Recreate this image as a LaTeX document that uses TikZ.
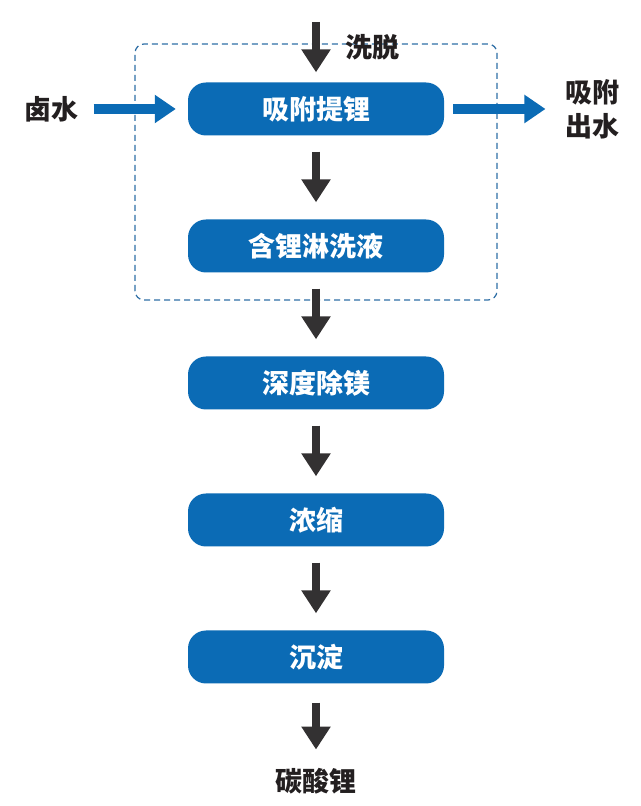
\documentclass[tikz,border=0pt]{standalone}
\usepackage{fontspec}
\newfontfamily\cjk{Noto Sans CJK SC}
\usetikzlibrary{positioning,arrows.meta}
\definecolor{boxblue}{HTML}{0B6BB5}
\definecolor{darkarrow}{HTML}{333132}
\definecolor{dashblue}{HTML}{2F6FA6}
\definecolor{labeltext}{HTML}{231F20}

\begin{document}
\begin{tikzpicture}[x=1pt,y=1pt,node distance=137pt,on grid,
   process/.style={rectangle, rounded corners=18pt, fill=boxblue,
      minimum width=256pt, minimum height=53pt, text=white,
      font=\cjk\bfseries\fontsize{27}{32}\selectfont},
   label/.style={text=labeltext, font=\cjk\bfseries\fontsize{27}{34}\selectfont},
   darrow/.style={darkarrow, line width=8pt, -{Triangle[width=28pt,length=23pt]}},
   barrow/.style={boxblue, line width=10pt, -{Triangle[width=27pt,length=21pt]}}]
   \useasboundingbox (0,0) rectangle (640,806);
   \fill[white] (0,0) rectangle (640,806);

   % dashed frame round the adsorption stage
   \draw[dashblue, line width=1.2pt, dash pattern=on 6pt off 4pt, rounded corners=9pt]
      (135,506) rectangle (497,762);

   \node[process] (b1) at (316,697) {吸附提锂};
   \node[process] (b2) [below=of b1] {含锂淋洗液};
   \node[process] (b3) [below=of b2] {深度除镁};
   \node[process] (b4) [below=of b3] {浓缩};
   \node[process] (b5) [below=of b4] {沉淀};

   \node[label] (brine) [left=265pt of b1] {卤水};
   \node[label, align=center] (outlet) [right=276pt of b1] {吸附\\出水};
   \node[label] (elute) at (372,759) {洗脱};
   \node[label] (carb) [below=124pt of b5] {碳酸锂};
   \coordinate (top) at (316,784);

   \draw[darrow, shorten >=10pt] (top) -- (b1);
   \draw[barrow, shorten <=12pt, shorten >=12pt] (brine) -- (b1);
   \draw[barrow, shorten <=9pt, shorten >=16pt] (b1) -- (outlet);

   \path[darrow, shorten <=16pt, shorten >=17pt]
   (b1) edge (b2)
   (b2) edge (b3)
   (b3) edge (b4)
   (b4) edge (b5);
   \draw[darrow, shorten <=19pt, shorten >=15pt] (b5) -- (carb);
\end{tikzpicture}
\end{document}
